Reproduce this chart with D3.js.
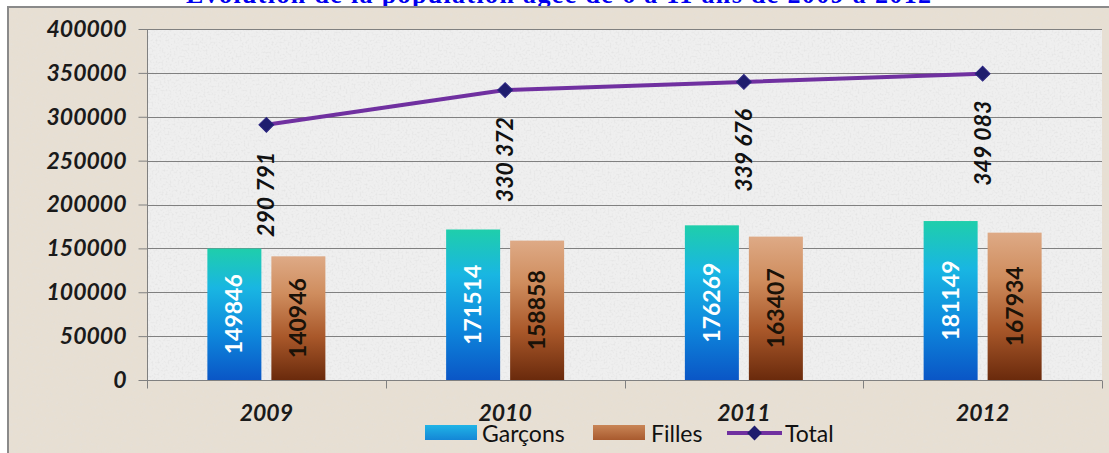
<!DOCTYPE html>
<html>
<head>
<meta charset="utf-8">
<script src="https://cdn.jsdelivr.net/npm/d3@7/dist/d3.min.js"></script>
<style>
html,body{margin:0;padding:0;background:#fff;}
svg{display:block;}
</style>
</head>
<body>
<svg id="chart" width="1109" height="453"></svg>
<script>
const title = "Evolution de la population âgée de 6 à 11 ans de 2009 à 2012";
const years = ["2009", "2010", "2011", "2012"];
const garcons = [149846, 171514, 176269, 181149];
const filles = [140946, 158858, 163407, 167934];
const total = [290791, 330372, 339676, 349083];
const yTicks = [0, 50000, 100000, 150000, 200000, 250000, 300000, 350000, 400000];
const seriesNames = ["Garçons", "Filles", "Total"];

const svg = d3.select("#chart");
const W = 1109, H = 453;
const plot = {left: 147, right: 1102, top: 29, bottom: 380};
const FONT = "Lato, 'Open Sans', sans-serif";

const defs = svg.append("defs");
function noiseFilter(id, seed, freq, col, a1, a0) {
  const f = defs.append("filter").attr("id", id).attr("x", 0).attr("y", 0).attr("width", "100%").attr("height", "100%");
  f.append("feTurbulence").attr("type", "fractalNoise").attr("baseFrequency", freq).attr("numOctaves", 3).attr("seed", seed).attr("result", "n");
  f.append("feColorMatrix").attr("in", "n").attr("type", "matrix")
    .attr("values", `0 0 0 0 ${col} 0 0 0 0 ${col} 0 0 0 0 ${col} ${a1} 0 0 0 ${a0}`);
}
noiseFilter("noisePlot", 4, 0.5, 0.7, 2.6, -1.2);
noiseFilter("noiseBg", 7, 0.3, 0.75, 1.8, -0.85);

function vgrad(id, stops) {
  const g = defs.append("linearGradient").attr("id", id).attr("x1", 0).attr("y1", 0).attr("x2", 0).attr("y2", 1);
  stops.forEach(s => g.append("stop").attr("offset", s[0]).attr("stop-color", s[1]));
}
vgrad("gG", [[0, "#1fceab"], [0.3, "#19b6e2"], [0.65, "#0e88dc"], [1, "#0a56c6"]]);
vgrad("gF", [[0, "#deaa86"], [0.3, "#cf8d5e"], [0.65, "#a9582a"], [1, "#6a2a0c"]]);
vgrad("gGleg", [[0, "#20b4e6"], [1, "#1486d6"]]);
vgrad("gFleg", [[0, "#c98556"], [1, "#a85a2e"]]);

// title (mostly clipped above the picture)
svg.append("text").attr("x", 186).attr("y", 3).attr("text-anchor", "start")
  .attr("textLength", 745).attr("lengthAdjust", "spacing")
  .attr("font-family", "'Liberation Serif', 'Times New Roman', serif").attr("font-weight", "bold")
  .attr("font-size", 26).attr("fill", "#0000ee").text(title);

// outer chart frame
svg.append("rect").attr("x", 8).attr("y", 7).attr("width", W).attr("height", H)
  .attr("fill", "#e7dfd3").attr("stroke", "#8a8a8a").attr("stroke-width", 2);
svg.append("rect").attr("x", 9).attr("y", 8).attr("width", W).attr("height", H)
  .attr("fill", "#000").attr("filter", "url(#noiseBg)").attr("opacity", 0.35);

// plot background
svg.append("rect").attr("x", plot.left).attr("y", plot.top).attr("width", plot.right - plot.left).attr("height", plot.bottom - plot.top)
  .attr("fill", "#efefef");
svg.append("rect").attr("x", plot.left).attr("y", plot.top).attr("width", plot.right - plot.left).attr("height", plot.bottom - plot.top)
  .attr("fill", "#000").attr("filter", "url(#noisePlot)").attr("opacity", 0.5);

const y = d3.scaleLinear().domain([0, 400000]).range([plot.bottom, plot.top]);
const x = d3.scaleBand().domain(years).range([plot.left, plot.right]).padding(0);
const bw = x.bandwidth();
const x1 = d3.scaleBand().domain(["g", "f"]).range([bw / 2 - 59, bw / 2 + 59]).paddingInner(2 - 118 / 64).paddingOuter(0);

// gridlines
svg.append("g").selectAll("line").data(yTicks.filter(d => d > 0)).join("line")
  .attr("x1", plot.left).attr("x2", plot.right)
  .attr("y1", d => Math.round(y(d)) + 0.5).attr("y2", d => Math.round(y(d)) + 0.5)
  .attr("stroke", "#808080").attr("stroke-width", 1);

// y axis
const yAxis = svg.append("g").attr("transform", `translate(${plot.left + 0.5},0)`)
  .call(d3.axisLeft(y).tickValues(yTicks).tickSize(9).tickPadding(12).tickFormat(d3.format("d")));
yAxis.select(".domain").attr("stroke", "#808080").attr("d", `M0,${plot.top}V${plot.bottom}`);
yAxis.selectAll(".tick line").attr("stroke", "#808080");
yAxis.selectAll(".tick text").attr("font-family", FONT).attr("font-style", "italic").attr("font-weight", "bold")
  .attr("font-size", 23).attr("fill", "#1a1a1a");

// x axis
const xAxisG = svg.append("g").attr("transform", `translate(0,${plot.bottom + 0.5})`);
xAxisG.append("line").attr("x1", plot.left).attr("x2", plot.right).attr("stroke", "#808080");
const bounds = years.map(d => x(d)).concat([plot.right]);
xAxisG.selectAll("line.tk").data(bounds).join("line").attr("class", "tk")
  .attr("x1", d => Math.round(d) + 0.5).attr("x2", d => Math.round(d) + 0.5).attr("y1", 0).attr("y2", 8)
  .attr("stroke", "#808080");
svg.append("g").selectAll("text").data(years).join("text")
  .attr("x", d => x(d) + bw / 2).attr("y", 421).attr("text-anchor", "middle")
  .attr("font-family", FONT).attr("font-style", "italic").attr("font-weight", "bold")
  .attr("font-size", 23).attr("fill", "#1a1a1a").text(d => d);

// bars
const barData = years.flatMap((yr, i) => [
  {yr, key: "g", v: garcons[i]},
  {yr, key: "f", v: filles[i]}
]);
svg.append("g").selectAll("rect").data(barData).join("rect")
  .attr("x", d => x(d.yr) + x1(d.key)).attr("width", x1.bandwidth())
  .attr("y", d => y(d.v)).attr("height", d => y(0) - y(d.v))
  .attr("fill", d => d.key === "g" ? "url(#gG)" : "url(#gF)");
svg.append("g").selectAll("text").data(barData).join("text")
  .attr("transform", d => `translate(${x(d.yr) + x1(d.key) + x1.bandwidth() / 2 + 8},${(y(d.v) + y(0)) / 2}) rotate(-90)`)
  .attr("text-anchor", "middle")
  .attr("font-family", FONT).attr("font-weight", "bold").attr("font-size", 23)
  .attr("fill", d => d.key === "g" ? "#ffffff" : "#1a1208").text(d => d.v);

// total line
const fmtSp = d3.formatLocale({decimal: ",", thousands: " ", grouping: [3], currency: ["", ""]}).format(",d");
const pts = years.map((yr, i) => ({yr, v: total[i]}));
svg.append("path").datum(pts)
  .attr("d", d3.line().x(d => x(d.yr) + bw / 2).y(d => y(d.v)))
  .attr("fill", "none").attr("stroke", "#7030a0").attr("stroke-width", 4);
const diamond = d3.symbol().type(d3.symbolSquare).size(110);
svg.append("g").selectAll("path").data(pts).join("path")
  .attr("d", diamond())
  .attr("transform", d => `translate(${x(d.yr) + bw / 2},${y(d.v)}) rotate(45)`)
  .attr("fill", "#1f1d6e").attr("stroke", "#2a2480").attr("stroke-width", 1);
svg.append("g").selectAll("text").data(pts).join("text")
  .attr("transform", d => `translate(${x(d.yr) + bw / 2 + 8},${y(d.v) + 27}) rotate(-90)`)
  .attr("text-anchor", "end")
  .attr("font-family", FONT).attr("font-style", "italic").attr("font-weight", "bold").attr("font-size", 23)
  .attr("fill", "#111").text(d => fmtSp(d.v));

// legend
const leg = svg.append("g");
const legItems = [
  {name: seriesNames[0], type: "rect", fill: "url(#gGleg)", x: 425, tx: 482},
  {name: seriesNames[1], type: "rect", fill: "url(#gFleg)", x: 593, tx: 651},
  {name: seriesNames[2], type: "line", x: 727, tx: 785}
];
legItems.forEach(it => {
  if (it.type === "rect") {
    leg.append("rect").attr("x", it.x).attr("y", 425).attr("width", 52).attr("height", 15).attr("fill", it.fill);
  } else {
    leg.append("line").attr("x1", it.x).attr("x2", it.x + 55).attr("y1", 433).attr("y2", 433)
      .attr("stroke", "#7030a0").attr("stroke-width", 4);
    leg.append("path").attr("d", diamond()).attr("transform", `translate(${it.x + 27.5},433) rotate(45)`)
      .attr("fill", "#1f1d6e");
  }
  leg.append("text").attr("x", it.tx).attr("y", 442).attr("font-family", FONT)
    .attr("font-size", 23).attr("fill", "#111").text(it.name);
});
</script>
</body>
</html>
